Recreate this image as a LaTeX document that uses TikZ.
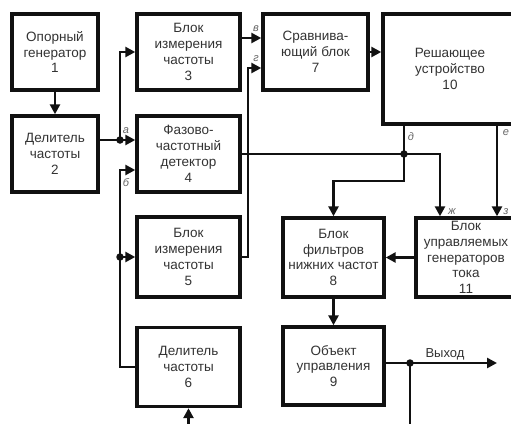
\documentclass[tikz,border=0pt]{standalone}
\usepackage{fontspec}
\setmainfont{Liberation Sans}
\usetikzlibrary{arrows.meta}
\definecolor{blkInk}{HTML}{111111}
\definecolor{blkText}{HTML}{333333}
\definecolor{blkTag}{HTML}{666666}
\tikzset{
  blk box/.style={draw=blkInk, line width=3.4pt, align=center, inner sep=0pt, text=blkText, font=\fontsize{13.5}{15.8}\selectfont},
  blk size/.style 2 args={minimum width=#1pt, minimum height=#2pt},
  blk line/.style={draw=blkInk, line width=2.8pt},
  blk arrow/.style={blk line, -{Triangle[length=10pt,width=10pt]}},
  blk dot/.style={circle, fill=blkInk, inner sep=0pt, minimum size=7.5pt},
  blk tag/.style={font=\fontsize{11}{11}\selectfont\itshape, text=blkTag},
  blk label/.style={font=\fontsize{13}{13}\selectfont, text=blkText},
}
\begin{document}
\begin{tikzpicture}[x=1pt,y=-1pt]
\fill[white](0,0)rectangle(511,423);\useasboundingbox(0,0)rectangle(511,423);
% blocks
\node[blk box,blk size={86}{76}](gen)at(55,52){Опорный\\генератор\\1};
\node[blk box,blk size={86}{76}](divA)at(55,154){Делитель\\частоты\\2};
\node[blk box,blk size={103}{76}](measA)at(188.5,52){Блок\\измерения\\частоты\\3};
\node[blk box,blk size={103}{76}](phase)at(188.5,154){Фазово-\\частотный\\детектор\\4};
\node[blk box,blk size={103}{80}](measB)at(188.5,257){Блок\\измерения\\частоты\\5};
\node[blk box,blk size={103}{79}](divB)at(188.5,367){Делитель\\частоты\\6};
\node[blk box,blk size={105}{76}](cmp)at(315.5,52){Сравнива-\\ющий блок\\7};
\node[blk box,blk size={134}{110}](solver)at(450,69){Решающее\\устройство\\10};
\node[blk box,blk size={101}{79}](filt)at(333.5,257.5){Блок\\фильтров\\нижних частот\\8};
\node[blk box,blk size={100}{79}](gens)at(466,257.5){Блок\\управляемых\\генераторов\\тока\\11};
\node[blk box,blk size={101}{78}](plant)at(333.5,366){Объект\\управления\\9};
% bends and branch points
\coordinate(ja)at(120,140);\coordinate(kb)at(120,170);\coordinate(jb)at(120,257);
\coordinate(kv)at(250,38);\coordinate(kg)at(248,68);
\coordinate(kd)at(404,154);\coordinate(kd2)at(404,181);\coordinate(kz)at(440,154);\coordinate(ke)at(497,154);
\coordinate(jo)at(410,363);\coordinate(ko)at(497,363);\coordinate(kf)at(410,425);
% links
\draw[blk arrow](gen)--(divA);
\draw[blk arrow](divA.east|-ja)--(phase.west|-ja);\draw[blk arrow](ja)|-(measA.west);
\draw[blk arrow](divB.west)-|(kb)--(phase.west|-kb);\draw[blk arrow](jb)--(measB.west);
\draw[blk arrow](measA.east|-kv)--(cmp.west|-kv);\draw[blk arrow](measB.east)-|(kg)--(cmp.west|-kg);
\draw[blk arrow](cmp.east)--(solver.west|-cmp.east);
\draw[blk arrow](phase.east)--(kz)--(kz|-gens.north);
\draw[blk arrow](solver.south-|kd)--(kd2)-|(filt.north);
\draw[blk arrow](solver.south-|ke)--(gens.north-|ke);
\draw[blk arrow](gens)--(filt);\draw[blk arrow](filt)--(plant);
\draw[blk arrow](plant.east|-jo)--(ko);\draw[blk arrow](jo)--(kf)-|(divB.south);
\node[blk dot](dA)at(ja){};\node[blk dot](dB)at(jb){};\node[blk dot](dD)at(kd){};\node[blk dot](dO)at(jo){};
% signal letters
\node[blk tag](tA)at(126,131){а};\node[blk tag](tB)at(126,183){б};
\node[blk tag](tV)at(256,29){в};\node[blk tag](tG)at(256,59){г};
\node[blk tag](tD)at(411,137){д};\node[blk tag](tE)at(506,133){е};
\node[blk tag](tZh)at(452,212){ж};\node[blk tag](tZ)at(506,212){з};
\node[blk label](out)at(445,354){Выход};
\end{tikzpicture}
\end{document}
